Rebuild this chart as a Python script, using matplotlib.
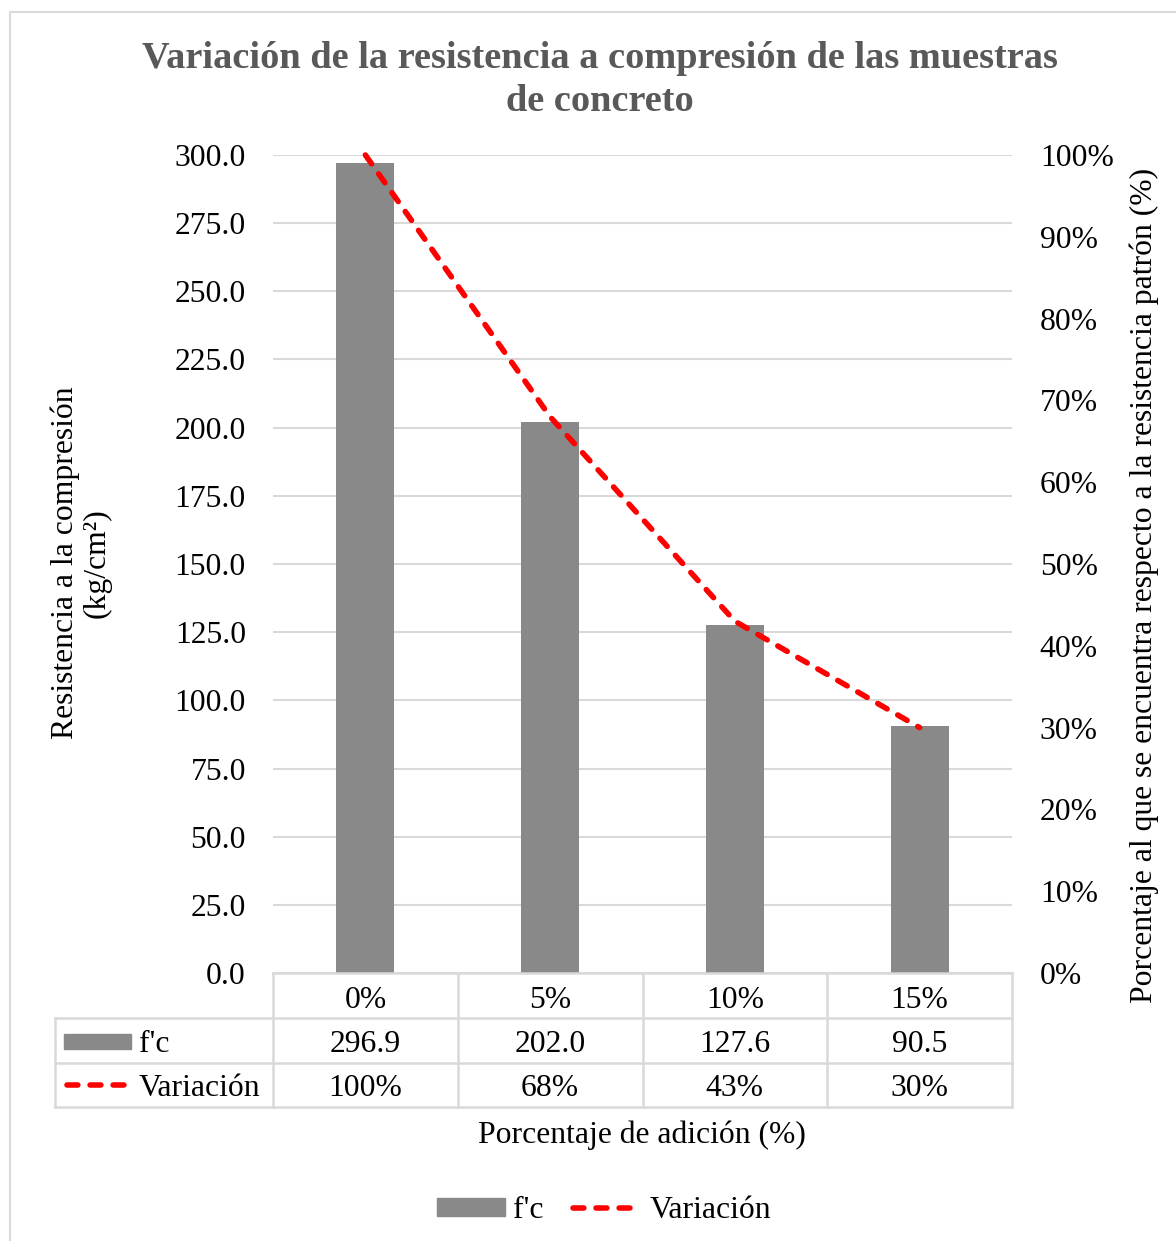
import numpy as np
import matplotlib.pyplot as plt
from matplotlib.patches import Rectangle
from matplotlib.lines import Line2D
from matplotlib import transforms

plt.rcParams['font.family'] = ['Liberation Serif', 'DejaVu Serif']

# datos del ensayo
adicion = ['0%', '5%', '10%', '15%']
fc = [296.9, 202.0, 127.6, 90.5]
variacion = [1.00, 0.68, 0.43, 0.30]
variacion_txt = ['100%', '68%', '43%', '30%']

W, H = 1176, 1241
fig = plt.figure(figsize=(W / 100, H / 100), dpi=100)


def fx(p):
    return p / W


def fy(p):
    return 1 - p / H


bar_color = '#898989'
grid_color = '#d9d9d9'
red = '#ff0000'
fs = 22.8
lw_red = 4.0
dash = (0, (1.95, 2.2))

ax = fig.add_axes([fx(273), fy(973), fx(1012) - fx(273), fy(155) - fy(973)])
ax2 = ax.twinx()

x = np.arange(len(adicion))
ax.bar(x, fc, width=0.315, color=bar_color, zorder=2)
ax.set_xlim(-0.5, len(adicion) - 0.5)
ax.set_ylim(0, 300)
yt = np.arange(0, 301, 25)
ax.set_yticks(yt)
ax.set_yticklabels([f'{v:.1f}' for v in yt])
ax.grid(axis='y', color=grid_color, lw=1.5, zorder=0)
ax.set_axisbelow(True)
ax.tick_params(length=0, labelsize=fs, pad=19.5)
ax.set_xticks([])

ax2.plot(x, variacion, color=red, lw=lw_red, ls=dash, dash_capstyle='round',
         clip_on=False, zorder=3)
ax2.set_ylim(0, 1)
pt = np.arange(0, 11) / 10
ax2.set_yticks(pt)
ax2.set_yticklabels([f'{int(round(v * 100))}%' for v in pt])
ax2.tick_params(length=0, labelsize=fs, pad=20)
ax2.set_xticks([])

for a in (ax, ax2):
    for s in a.spines.values():
        s.set_visible(False)

# tabla de datos debajo del eje
trans = transforms.blended_transform_factory(ax.transData, fig.transFigure)
tf = fig.transFigure
lc = dict(color=grid_color, lw=1.8)
rows = [973, 1018, 1063, 1107]
fig.add_artist(Line2D([-0.5, 3.5], [fy(rows[0])] * 2, transform=trans, **lc))
for r in rows[1:]:
    fig.add_artist(Line2D([fx(55), fx(1012)], [fy(r)] * 2, transform=tf, **lc))
fig.add_artist(Line2D([fx(55)] * 2, [fy(1018), fy(1107)], transform=tf, **lc))
for b in np.arange(-0.5, len(adicion)):
    fig.add_artist(Line2D([b, b], [fy(973), fy(1107)], transform=trans, **lc))

for i in range(len(adicion)):
    fig.text(x[i], fy(1000), adicion[i], transform=trans, ha='center', va='center', fontsize=fs)
    fig.text(x[i], fy(1044), f'{fc[i]:.1f}', transform=trans, ha='center', va='center', fontsize=fs)
    fig.text(x[i], fy(1089), variacion_txt[i], transform=trans, ha='center', va='center', fontsize=fs)

fig.add_artist(Rectangle((fx(64), fy(1049)), fx(131) - fx(64), fy(1034) - fy(1049),
                         transform=tf, color=bar_color))
fig.add_artist(Line2D([fx(67), fx(125)], [fy(1085)] * 2, transform=tf, color=red,
                      lw=lw_red, ls=dash, dash_capstyle='round'))
fig.text(fx(139), fy(1044), "f'c", ha='left', va='center', fontsize=fs)
fig.text(fx(139), fy(1089), 'Variación', ha='left', va='center', fontsize=fs)

# títulos y rótulos
fig.text(fx(600), fy(80), 'Variación de la resistencia a compresión de las muestras\nde concreto',
         ha='center', va='center', fontsize=27.6, fontweight='bold', color='#595959',
         linespacing=1.3)
fig.text(fx(642), fy(1135), 'Porcentaje de adición (%)', ha='center', va='center', fontsize=fs)
fig.text(fx(81), fy(563), 'Resistencia a la compresión\n(kg/cm²)', rotation=90,
         ha='center', va='center', fontsize=fs, linespacing=1.08)
fig.text(fx(1144), fy(585), 'Porcentaje al que se encuentra respecto a la resistencia patrón (%)',
         rotation=90, ha='center', va='center', fontsize=fs)

# leyenda inferior
handles = [Rectangle((0, 0), 1, 1, color=bar_color),
           Line2D([], [], color=red, lw=lw_red, ls=dash, dash_capstyle='round')]
fig.legend(handles, ["f'c", 'Variación'], loc='center', bbox_to_anchor=(fx(604), fy(1211)),
           ncol=2, frameon=False, fontsize=fs, handlelength=2.15, handleheight=0.5,
           handletextpad=0.25, columnspacing=0.95)

# borde del área del gráfico
fig.add_artist(Rectangle((fx(10), fy(1300)), fx(1200) - fx(10), fy(12) - fy(1300),
                         transform=tf, fill=False, ec=grid_color, lw=1.5))

fig.savefig('out.png', dpi=100)
